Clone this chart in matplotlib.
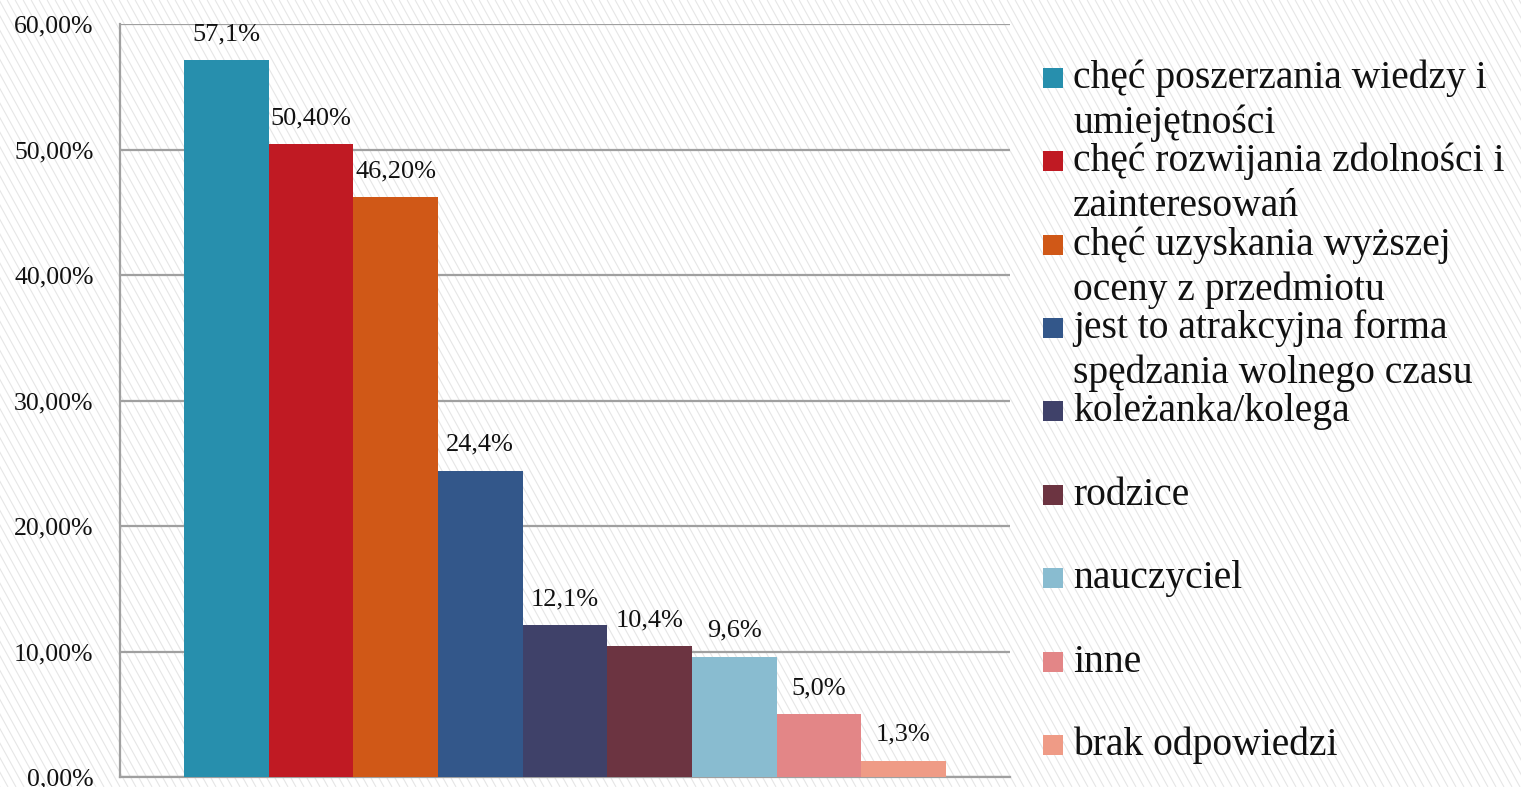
import matplotlib
matplotlib.use("Agg")
import numpy as np
import matplotlib.pyplot as plt
from matplotlib.patches import Rectangle
from matplotlib.collections import LineCollection
from matplotlib.ticker import FuncFormatter

# data
categories = [
    "chęć poszerzania wiedzy i\numiejętności",
    "chęć rozwijania zdolności i\nzainteresowań",
    "chęć uzyskania wyższej\noceny z przedmiotu",
    "jest to atrakcyjna forma\nspędzania wolnego czasu",
    "koleżanka/kolega",
    "rodzice",
    "nauczyciel",
    "inne",
    "brak odpowiedzi",
]
values = [57.1, 50.4, 46.2, 24.4, 12.1, 10.4, 9.6, 5.0, 1.3]
value_labels = ["57,1%", "50,40%", "46,20%", "24,4%", "12,1%", "10,4%", "9,6%", "5,0%", "1,3%"]
colors = ["#278FAD", "#C01A23", "#D05817", "#33578A", "#3F4169",
          "#6C3441", "#89BCD0", "#E38687", "#EF9B86"]
yticks = [0, 10, 20, 30, 40, 50, 60]

plt.rcParams['font.family'] = ['Liberation Serif', 'DejaVu Serif']

W, H = 1521, 787
fig = plt.figure(figsize=(W / 100, H / 100), dpi=100)
fig.patch.set_facecolor('white')

# thin diagonal stripes in the background (pixel coords, top-left down to bottom-right)
step, slope = 8.0, 0.55
starts = np.arange(-H * slope, W + step, step)
segs = [[(x0 / W, 1.0), ((x0 + H * slope) / W, 0.0)] for x0 in starts]
fig.add_artist(LineCollection(segs, colors='#e6e6e6', linewidths=0.8,
                              transform=fig.transFigure, zorder=-5))

ax = fig.add_axes([0.0789, 0.0127, 0.585, 0.9568])
ax.patch.set_alpha(0)

x = list(range(len(values)))
ax.bar(x, values, width=1.0, color=colors, zorder=3)
for xi, v, lab in zip(x, values, value_labels):
    ax.text(xi, v + 1.2, lab, ha='center', va='bottom', fontsize=19, color='#111111')

ax.set_xlim(-1.255, len(values) - 1 + 1.255)
ax.set_ylim(0, 60)
ax.set_yticks(yticks)
ax.yaxis.set_major_formatter(FuncFormatter(lambda v, p: f"{v:.2f}%".replace('.', ',')))
ax.tick_params(axis='y', length=0, pad=19, labelsize=18.5, labelcolor='#111111')
ax.set_xticks([])
ax.grid(axis='y', color='#a0a0a0', linewidth=1.6, zorder=1)
for s in ['top', 'right']:
    ax.spines[s].set_visible(False)
for s in ['left', 'bottom']:
    ax.spines[s].set_color('#a0a0a0')
    ax.spines[s].set_linewidth(1.6)

# legend drawn by hand so squares line up with the first text line
legend_y = [78, 161, 245, 328, 411, 495, 578, 662, 745]
line_gap = 45
for cat, col, yy in zip(categories, colors, legend_y):
    fig.patches.append(Rectangle((1043 / W, 1 - (yy + 10) / H), 20 / W, 20 / H,
                                 transform=fig.transFigure, facecolor=col,
                                 edgecolor='none'))
    for i, line in enumerate(cat.split('\n')):
        fig.text(1073 / W, 1 - (yy + 10 + i * line_gap) / H, line, ha='left',
                 va='baseline', fontsize=28.5, color='#111111')

fig.savefig("out.png", dpi=100)
